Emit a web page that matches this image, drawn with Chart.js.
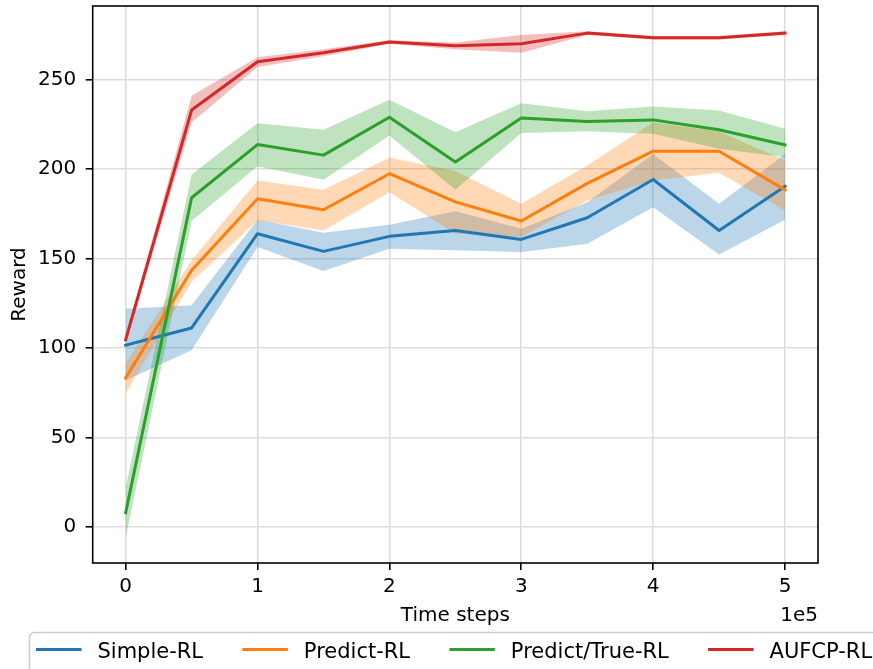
<!DOCTYPE html>
<html>
<head>
<meta charset="utf-8">
<script src="https://cdn.jsdelivr.net/npm/chart.js@4.4.0/dist/chart.umd.min.js"></script>
<style>
html,body{margin:0;padding:0;background:#fff;}
#wrap{width:873px;height:669px;position:relative;}
</style>
</head>
<body>
<div id="wrap"><canvas id="c"></canvas></div>
<script>
// ---- data ----
const steps = [0, 50000, 100000, 150000, 200000, 250000, 300000, 350000, 400000, 450000, 500000];
const seriesNames = ['Simple-RL', 'Predict-RL', 'Predict/True-RL', 'AUFCP-RL'];

const simpleMean  = [101.6, 111.2, 163.9, 154.0, 162.4, 165.7, 160.7, 172.8, 194.2, 165.7, 190.3];
const simpleUpper = [122.0, 123.9, 171.7, 164.4, 168.9, 176.5, 166.7, 181.5, 208.5, 180.6, 208.5];
const simpleLower = [ 82.0,  98.8, 156.4, 143.0, 155.5, 154.6, 153.6, 158.3, 178.7, 152.3, 171.7];

const predictMean  = [83.3, 143.5, 183.4, 177.3, 197.4, 181.7, 171.0, 192.0, 210.0, 210.0, 188.4];
const predictUpper = [91.3, 149.0, 193.6, 188.4, 206.3, 199.0, 180.6, 202.0, 226.0, 221.0, 204.8];
const predictLower = [74.6, 137.0, 171.3, 165.7, 187.0, 164.0, 162.0, 182.5, 193.6, 198.0, 176.9];

const trueMean  = [ 8.0, 184.0, 213.7, 207.8, 229.0, 204.0, 228.6, 226.6, 227.5, 222.0, 213.5];
const trueUpper = [22.0, 197.0, 225.6, 222.0, 238.7, 220.6, 236.8, 232.3, 235.0, 232.7, 222.5];
const trueLower = [-6.0, 171.0, 201.6, 194.0, 218.8, 188.4, 220.2, 221.2, 219.7, 211.3, 206.6];

const aufcpMean  = [104.7, 233.0, 260.0, 265.0, 271.0, 269.0, 270.0, 276.0, 273.4, 273.4, 276.0];
const aufcpUpper = [106.5, 241.0, 262.5, 267.0, 272.0, 270.8, 275.0, 277.0, 274.4, 274.4, 277.0];
const aufcpLower = [103.0, 226.0, 257.0, 263.0, 270.0, 267.0, 265.0, 275.0, 272.4, 272.4, 275.0];

const xTicks = [0, 100000, 200000, 300000, 400000, 500000];
const xTickLabels = ['0', '1', '2', '3', '4', '5'];
const yTicks = [0, 50, 100, 150, 200, 250];
const yTickLabels = ['0', '50', '100', '150', '200', '250'];
const xOffsetLabel = '1e5';
const xTitle = 'Time steps';
const yTitle = 'Reward';

// ---- styling ----
const colors = ['#1f77b4', '#ff7f0e', '#2ca02c', '#d62728'];
const bandColors = ['rgba(31,119,180,0.3)', 'rgba(255,127,14,0.3)', 'rgba(44,160,44,0.3)', 'rgba(214,39,40,0.3)'];
const FONT = 'DejaVu Sans';

const means = [simpleMean, predictMean, trueMean, aufcpMean];
const uppers = [simpleUpper, predictUpper, trueUpper, aufcpUpper];
const lowers = [simpleLower, predictLower, trueLower, aufcpLower];

const toPts = arr => arr.map((v, i) => ({x: steps[i], y: v}));

const datasets = [];
// lines: last series first so it is drawn on top
for (let s = seriesNames.length - 1; s >= 0; s--) {
  datasets.push({
    label: seriesNames[s], data: toPts(means[s]),
    borderColor: colors[s], backgroundColor: colors[s], borderWidth: 3,
    pointRadius: 0, pointHoverRadius: 0, tension: 0, fill: false,
    borderJoinStyle: 'round', borderCapStyle: 'square'
  });
}
for (let s = seriesNames.length - 1; s >= 0; s--) {
  datasets.push({
    label: seriesNames[s] + ' upper', data: toPts(uppers[s]),
    borderColor: 'transparent', borderWidth: 0, backgroundColor: bandColors[s],
    pointRadius: 0, pointHoverRadius: 0, tension: 0, fill: '+1'
  });
  datasets.push({
    label: seriesNames[s] + ' lower', data: toPts(lowers[s]),
    borderColor: 'transparent', borderWidth: 0, backgroundColor: 'transparent',
    pointRadius: 0, pointHoverRadius: 0, tension: 0, fill: false
  });
}

const xSpan = steps[steps.length - 1] - steps[0];
const xMin = steps[0] - 0.05 * xSpan, xMax = steps[steps.length - 1] + 0.05 * xSpan;
const lo = Math.min(...lowers.flat()), hi = Math.max(...uppers.flat());
const yMin = lo - 0.05 * (hi - lo), yMax = hi + 0.05 * (hi - lo);

const framePlugin = {
  id: 'frame',
  afterDatasetsDraw(chart) {
    const {ctx, chartArea: a} = chart;
    ctx.save();
    ctx.strokeStyle = '#000';
    ctx.lineWidth = 1.6;
    ctx.strokeRect(a.left, a.top, a.right - a.left, a.bottom - a.top);
    ctx.restore();
  },
  afterDraw(chart) {
    const {ctx, chartArea: a} = chart;
    ctx.save();
    // offset text
    ctx.fillStyle = '#000';
    ctx.font = '20px "' + FONT + '"';
    ctx.textAlign = 'right';
    ctx.textBaseline = 'alphabetic';
    ctx.fillText(xOffsetLabel, a.right, 620.5);
    // legend
    ctx.font = '21px "' + FONT + '"';
    ctx.fillStyle = 'rgba(255,255,255,0.8)';
    ctx.strokeStyle = '#cccccc';
    ctx.lineWidth = 1.6;
    ctx.beginPath();
    ctx.roundRect(29.5, 632.5, 860, 50, 5);
    ctx.fill();
    ctx.stroke();
    let x = 36;
    ctx.textAlign = 'left';
    for (let s = 0; s < seriesNames.length; s++) {
      ctx.strokeStyle = colors[s];
      ctx.lineWidth = 3;
      ctx.beginPath();
      ctx.moveTo(x, 649.5);
      ctx.lineTo(x + 45.5, 649.5);
      ctx.stroke();
      ctx.fillStyle = '#000';
      ctx.fillText(seriesNames[s], x + 61.5, 658.3);
      x += 61.5 + ctx.measureText(seriesNames[s]).width + 39.3;
    }
    ctx.restore();
  }
};

Chart.defaults.font.family = FONT;
Chart.defaults.font.size = 20;
Chart.defaults.color = '#000';

new Chart(document.getElementById('c'), {
  type: 'line',
  data: {datasets},
  options: {
    responsive: true,
    maintainAspectRatio: false,
    animation: false,
    events: [],
    layout: {padding: {left: 8, right: 55, top: 6, bottom: 41.6}},
    plugins: {
      legend: {display: false},
      tooltip: {enabled: false},
      filler: {drawTime: 'beforeDatasetsDraw', propagate: false}
    },
    scales: {
      x: {
        type: 'linear', min: xMin, max: xMax,
        afterBuildTicks: s => { s.ticks = xTicks.map(v => ({value: v})); },
        afterFit: s => { s.height = 64.4; s.paddingLeft = 0; s.paddingRight = 0; },
        ticks: {
          padding: 5, maxRotation: 0, autoSkip: false, color: '#000',
          font: {size: 20, family: FONT},
          callback: v => xTickLabels[xTicks.indexOf(v)]
        },
        grid: {color: '#dddddd', lineWidth: 1.6, tickColor: '#000', tickLength: 7, tickWidth: 1.6},
        border: {display: false},
        title: {display: true, text: xTitle, padding: 0, color: '#000', font: {size: 20, family: FONT}}
      },
      y: {
        type: 'linear', min: yMin, max: yMax,
        afterBuildTicks: s => { s.ticks = yTicks.map(v => ({value: v})); },
        afterFit: s => { s.width = 84.7; s.paddingTop = 0; s.paddingBottom = 0; },
        ticks: {
          padding: 9.5, autoSkip: false, color: '#000',
          font: {size: 20, family: FONT},
          callback: v => yTickLabels[yTicks.indexOf(v)]
        },
        grid: {color: '#dddddd', lineWidth: 1.6, tickColor: '#000', tickLength: 7, tickWidth: 1.6},
        border: {display: false},
        title: {display: true, text: yTitle, padding: 0, color: '#000', font: {size: 20, family: FONT}}
      }
    }
  },
  plugins: [framePlugin]
});
</script>
</body>
</html>
